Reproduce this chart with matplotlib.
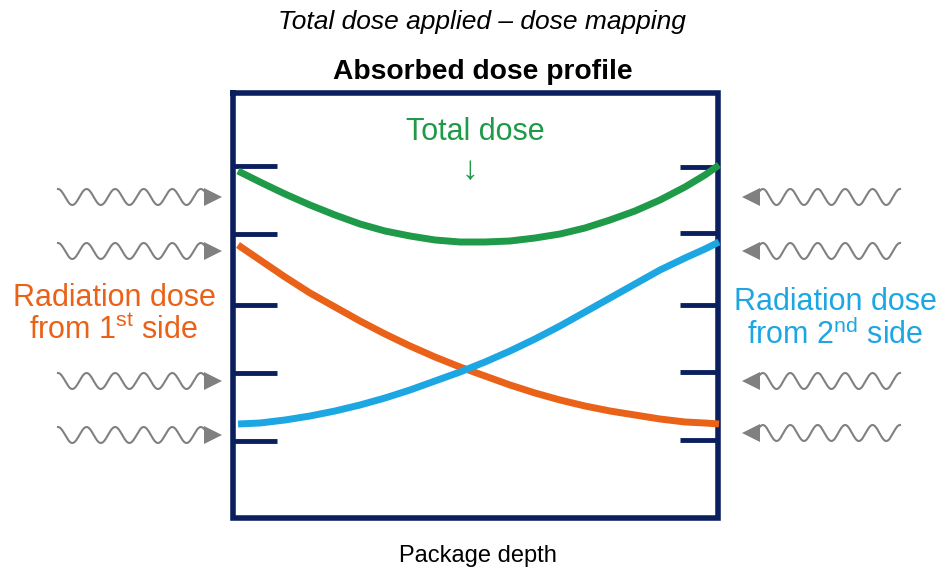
#!/usr/bin/env python3
# Absorbed dose profile sketch: two one-sided dose curves and their total

import numpy as np
from matplotlib import pyplot as plt
import matplotlib

matplotlib.rcParams.update({
    'font.family': ['Liberation Sans', 'DejaVu Sans'],
    'mathtext.fontset': 'custom',
    'mathtext.rm': 'Liberation Sans',
    'figure.dpi': 100,
})

navy = '#0b1f5e'
green = '#1f9a48'
orange = '#ea6118'
blue = '#1ca7e3'
grey = '#808080'

# curves (pixel coords, y down)
depth_x = [238, 260, 285, 310, 335, 360, 385, 410, 435, 460, 485,
           510, 535, 560, 585, 610, 635, 660, 685, 705, 719]
total_y = [171, 182, 194, 205, 215, 224, 231, 236, 240, 242, 242,
           241, 238, 234, 228, 220, 211, 200, 187, 175, 165]
side1_y = [245, 260, 277, 293, 307, 321, 334, 346, 357, 367, 376,
           385, 393, 400, 406, 411, 415, 419, 422, 423, 424]
side2_y = [424, 423, 420, 416, 411, 405, 398, 390, 381, 372, 362,
           351, 339, 326, 312, 298, 284, 270, 258, 249, 242]

left_ticks = [166, 234, 305, 373, 441]
right_ticks = [167, 233, 305, 372, 440]
wave_rows_left = [197, 251, 381, 435]
wave_rows_right = [197, 251, 381, 433]

box = dict(left=233, right=718, top=93, bottom=518)

fig = plt.figure(figsize=(9.41, 5.74))
ax = fig.add_axes([0, 0, 1, 1])
ax.set_xlim(0, 941)
ax.set_ylim(574, 0)
ax.axis("off")

# package box
ax.plot([box['left'], box['right'], box['right'], box['left'], box['left']],
        [box['top'], box['top'], box['bottom'], box['bottom'], box['top']],
        color=navy, lw=4, solid_joinstyle='miter')
for y in left_ticks:
    ax.plot([box['left'], 277], [y, y], color=navy, lw=3.5, solid_capstyle='butt')
for y in right_ticks:
    ax.plot([680, box['right']], [y, y], color=navy, lw=3.5, solid_capstyle='butt')

ax.plot(depth_x, total_y, color=green, lw=5, solid_capstyle='butt')
ax.plot(depth_x, side1_y, color=orange, lw=5, solid_capstyle='butt')
ax.plot(depth_x, side2_y, color=blue, lw=5, solid_capstyle='butt')


def wavy(x0, x1, y, tip):
    # decorative squiggle + arrow head
    t = np.linspace(0, 1, 300)
    xs = x0 + (x1 - x0) * t
    ys = y - 8 * np.sin(2 * np.pi * 5.25 * t + np.pi / 2)
    ax.plot(xs, ys, color=grey, lw=1.5)
    d = np.sign(tip - x1)
    ax.fill([tip, x1 - d * 4, x1 - d * 4], [y, y - 9, y + 9], color=grey, lw=0)


for y in wave_rows_left:
    wavy(58, 208, y, 222)
for y in wave_rows_right:
    wavy(900, 756, y, 742)

ax.text(482, 22, "Total dose applied \u2013 dose mapping", style='italic',
        fontsize=19, ha='center', va='center')
ax.text(483, 72, "Absorbed dose profile", fontweight='bold',
        fontsize=20.3, ha='center', va='center')
ax.text(475, 132, "Total dose", color=green, fontsize=22, ha='center', va='center')
ax.text(470, 170, "\u2193", color=green, fontsize=24, ha='center', va='center')

ax.text(114, 298, "Radiation dose", color=orange, fontsize=22, ha='center', va='center')
ax.text(114, 331, r"from 1$^{\mathrm{st}}$ side", color=orange, fontsize=22,
        ha='center', va='center')
ax.text(835, 302, "Radiation dose", color=blue, fontsize=22, ha='center', va='center')
ax.text(835, 335, r"from 2$^{\mathrm{nd}}$ side", color=blue, fontsize=22,
        ha='center', va='center')

ax.text(478, 556, "Package depth", fontsize=17, ha='center', va='center')

plt.savefig("out.png", dpi=100)
